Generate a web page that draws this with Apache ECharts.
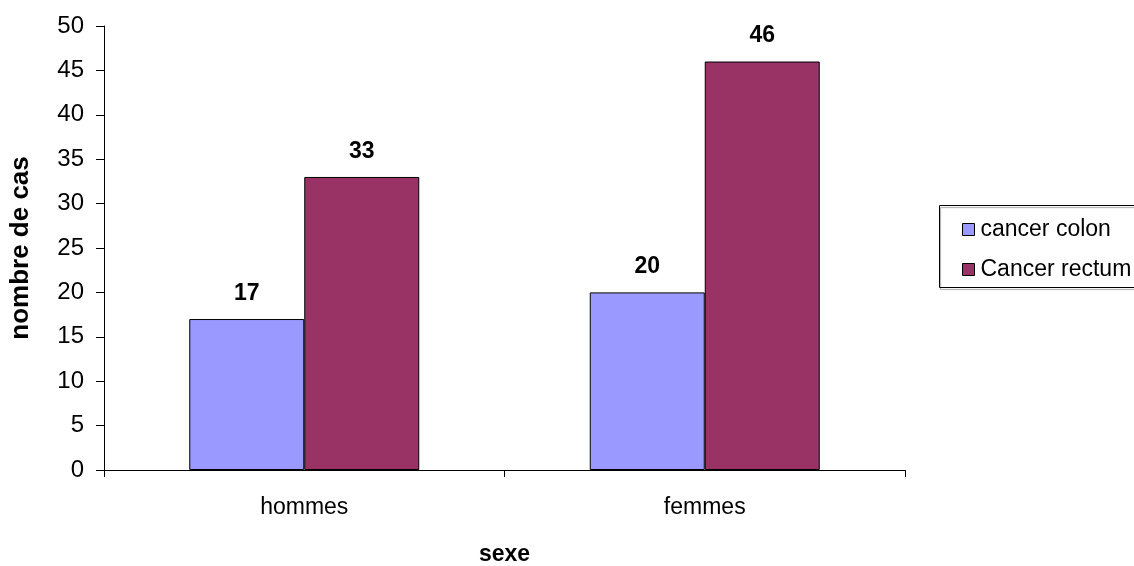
<!DOCTYPE html>
<html>
<head>
<meta charset="utf-8">
<script src="https://cdn.jsdelivr.net/npm/echarts@6/dist/echarts.min.js"></script>
<style>
  html, body { margin: 0; padding: 0; background: #fff; overflow: hidden; }
  #chart { width: 1134px; height: 566px; }
</style>
</head>
<body>
<div id="chart"></div>
<script>
// Cases by sex and cancer site
const categories = ['hommes', 'femmes'];
const seriesNames = ['cancer colon', 'Cancer rectum'];
const colonValues = [17, 20];
const rectumValues = [33, 46];

const FONT = '"Liberation Sans", Arial, sans-serif';
const chart = echarts.init(document.getElementById('chart'), null, { renderer: 'canvas', width: 1134, height: 566 });

const labelStyle = {
  show: true,
  position: 'top',
  distance: 14,
  fontFamily: FONT,
  fontSize: 23,
  fontWeight: 'bold',
  color: '#000'
};

chart.setOption({
  animation: false,
  grid: { left: 104, width: 801, top: 26, height: 444, containLabel: false, outerBoundsMode: 'none' },
  legend: {
    orient: 'vertical',
    left: 957,
    top: 213,
    itemWidth: 12,
    itemHeight: 12,
    itemGap: 17,
    icon: 'rect',
    textStyle: { fontFamily: FONT, fontSize: 23, color: '#000', padding: [0, 0, 0, 1] },
    data: seriesNames.map(n => ({ name: n, itemStyle: { borderColor: '#000', borderWidth: 1 } }))
  },
  graphic: [{
    type: 'rect',
    shape: { x: 939.5, y: 205.5, width: 220, height: 82 },
    style: { fill: 'none', stroke: '#000', lineWidth: 1, shadowColor: 'rgba(0,0,0,0.35)', shadowOffsetX: 1, shadowOffsetY: 2, shadowBlur: 1 }
  }],
  xAxis: {
    type: 'category',
    data: categories,
    name: 'sexe',
    nameLocation: 'middle',
    nameGap: 73,
    nameTextStyle: { fontFamily: FONT, fontSize: 23, fontWeight: 'bold', color: '#000' },
    axisLine: { lineStyle: { color: '#000', width: 1 } },
    axisTick: { show: true, length: 7, lineStyle: { color: '#000' } },
    axisLabel: { fontFamily: FONT, fontSize: 23, color: '#000', margin: 26 }
  },
  yAxis: {
    type: 'value',
    min: 0,
    max: 50,
    interval: 5,
    name: 'nombre de cas',
    nameLocation: 'middle',
    nameGap: 70,
    nameTextStyle: { fontFamily: FONT, fontSize: 26, fontWeight: 'bold', color: '#000' },
    axisLine: { show: true, lineStyle: { color: '#000', width: 1 } },
    axisTick: { show: true, length: 8, lineStyle: { color: '#000' } },
    axisLabel: { fontFamily: FONT, fontSize: 24, color: '#000', margin: 20 },
    splitLine: { show: false }
  },
  series: [
    {
      name: seriesNames[0],
      type: 'bar',
      data: colonValues,
      barWidth: 115,
      barGap: '0%',
      itemStyle: { color: '#9999FF', borderColor: '#000', borderWidth: 1 },
      label: labelStyle
    },
    {
      name: seriesNames[1],
      type: 'bar',
      data: rectumValues,
      barWidth: 115,
      barGap: '0%',
      itemStyle: { color: '#993366', borderColor: '#000', borderWidth: 1 },
      label: labelStyle
    }
  ]
});
</script>
</body>
</html>
